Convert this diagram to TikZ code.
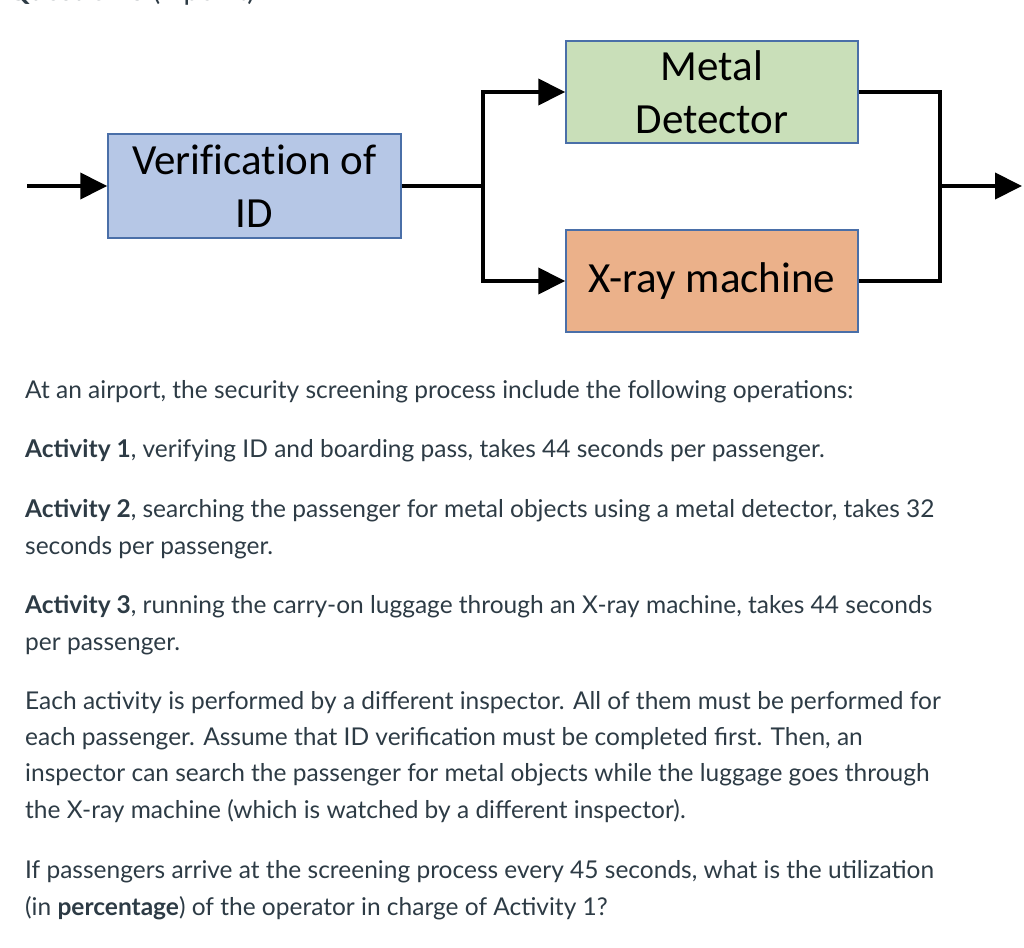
\documentclass[tikz,border=0pt]{standalone}
\usepackage{fontspec}
\setmainfont{Lato}
\newfontfamily\boxfont[Ligatures=NoCommon]{Carlito}
\usepackage{xcolor}
\usepackage{tikz}
\usetikzlibrary{shapes, arrows, arrows.meta, calc, positioning}
\definecolor{idblue}{HTML}{B6C7E6}
\definecolor{metalgreen}{HTML}{C9DFB9}
\definecolor{xrayorange}{HTML}{EBB18A}
\definecolor{boxedge}{HTML}{4A6FA8}
\definecolor{canvasgray}{HTML}{2D3B45}
\tikzstyle{station} = [rectangle, draw=boxedge, line width=1.5pt, align=center,
    inner sep=0pt, font=\boxfont\fontsize{43}{53}\selectfont]
\tikzstyle{verifier} = [station, fill=idblue, minimum width=293pt, minimum height=104pt]
\tikzstyle{detector} = [station, fill=metalgreen, minimum width=292pt, minimum height=102pt]
\tikzstyle{scanner} = [station, fill=xrayorange, minimum width=292pt, minimum height=102pt]
\tikzstyle{para} = [anchor=base west, align=left, inner sep=0pt, text=canvasgray,
    font=\fontsize{24.5}{36.2}\selectfont]
\tikzstyle{line} = [draw, line width=4pt, -{Triangle[length=27pt, width=26pt]}]
\tikzstyle{wire} = [draw, line width=4pt]

\begin{document}
\begin{tikzpicture}[x=1pt, y=1pt, node distance = 100pt, auto]
    \useasboundingbox (0,0) rectangle (1024,-947);
    \clip (0,0) rectangle (1024,-947);
    % Nodes
    \node [verifier] (verify) at (254.5,-186) {Verification of\\ID};
    \node [detector, right of=verify, node distance=457.5pt, yshift=94pt] (metal) {Metal\\Detector};
    \node [scanner, below of=metal, node distance=189pt] (xray) {X-ray machine};
    \coordinate (in) at (27,-186);
    \coordinate (split) at (483,-186);
    \coordinate (merge) at (940,-186);
    \coordinate (out) at (1022,-186);

    % Edges
    \path [line] (in) -- (verify);
    \path [wire] (verify) -- (split);
    \path [line] (split) |- (metal);
    \path [line] (split) |- (xray);
    \path [wire] (metal) -| (merge);
    \path [wire] (xray) -| (merge);
    \path [line] (merge) -- (out);

    % Text (base anchor = last line)
    \node [para, font=\fontsize{28}{30}\selectfont] (header) at (7,-1) {\textbf{Question 3} (1 point)};
    \node [para] (intro) at (25,-398) {At an airport, the security screening process include the following operations:};
    \node [para] (act1) at (25,-457) {\textbf{Activity 1}, verifying ID and boarding pass, takes 44 seconds per passenger.};
    \node [para] (act2) at (25,-554) {\textbf{Activity 2}, searching the passenger for metal objects using a metal detector, takes 32\\seconds per passenger.};
    \node [para] (act3) at (25,-650) {\textbf{Activity 3}, running the carry-on luggage through an X-ray machine, takes 44 seconds\\per passenger.};
    \node [para] (rules) at (25,-818) {Each activity is performed by a different inspector. All of them must be performed for\\each passenger. Assume that ID verification must be completed first. Then, an\\inspector can search the passenger for metal objects while the luggage goes through\\the X-ray machine (which is watched by a different inspector).};
    \node [para] (question) at (25,-915) {If passengers arrive at the screening process every 45 seconds, what is the utilization\\(in \textbf{percentage}) of the operator in charge of Activity 1?};
\end{tikzpicture}
\end{document}
